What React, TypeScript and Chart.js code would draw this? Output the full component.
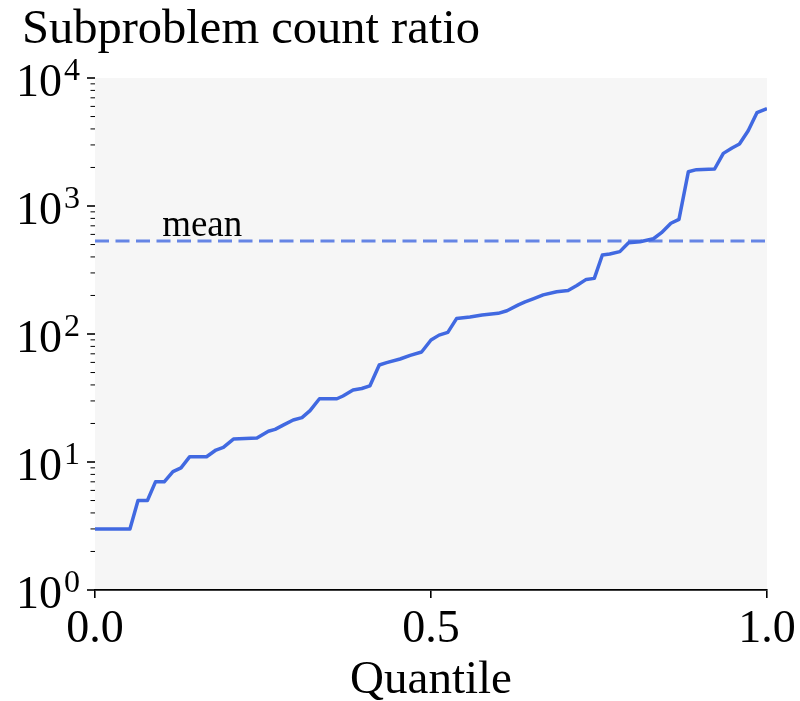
import React, { useEffect, useRef } from 'react';
import { Chart, registerables } from 'chart.js';

Chart.register(...registerables);

// ---- data ----
const quantiles = [
  0, 0.052, 0.064, 0.078, 0.09, 0.103, 0.116, 0.128, 0.141, 0.166,
  0.18, 0.191, 0.206, 0.241, 0.258, 0.268, 0.28, 0.295, 0.308, 0.32,
  0.334, 0.36, 0.369, 0.384, 0.397, 0.409, 0.423, 0.434, 0.454, 0.469,
  0.486, 0.5, 0.512, 0.525, 0.538, 0.558, 0.576, 0.6, 0.613, 0.63,
  0.64, 0.652, 0.667, 0.687, 0.704, 0.717, 0.731, 0.743, 0.755, 0.766,
  0.781, 0.794, 0.811, 0.831, 0.843, 0.857, 0.869, 0.883, 0.895, 0.922,
  0.935, 0.948, 0.959, 0.972, 0.985, 1.0,
];
const ratios = [
  3, 3, 5, 5, 7, 7, 8.4, 9, 11, 11,
  12.4, 13, 15.1, 15.4, 17.4, 18, 19.4, 21.3, 22.2, 25.2,
  31.2, 31.2, 32.8, 36.5, 37.5, 39.3, 57.3, 59.7, 63.8, 68.1,
  72.3, 89.7, 98, 103, 132, 136, 141, 145, 152, 169,
  178, 188, 202, 214, 219, 239, 267, 272, 414, 422,
  440, 517, 526, 555, 619, 733, 787, 1854, 1923, 1945,
  2577, 2840, 3049, 3876, 5357, 5755,
];
const meanRatio = 533;
const meanLabel = 'mean';
const meanLabelQuantile = 0.1;
const xTicks = [0, 0.5, 1];
const yMajorTicks = [1, 10, 100, 1000, 10000];
const yTickBase = '10';
const yTickExponents = ['0', '1', '2', '3', '4'];
const chartTitle = 'Subproblem count ratio';
const xAxisTitle = 'Quantile';

const SERIF = "'Liberation Serif', 'Times New Roman', serif";
const LINE_COLOR = '#4169e1';
const MEAN_COLOR = 'rgba(65,105,225,0.8)';

function fitFont(ctx: CanvasRenderingContext2D, text: string, width: number) {
  ctx.font = `100px ${SERIF}`;
  const w = ctx.measureText(text).width;
  return (100 * width) / w;
}

const decorPlugin = {
  id: 'decor',
  beforeDraw(chart: any) {
    const { ctx, chartArea: a } = chart;
    ctx.save();
    ctx.fillStyle = '#f6f6f6';
    ctx.fillRect(a.left, a.top, a.right - a.left, a.bottom - a.top);
    ctx.restore();
  },
  afterDraw(chart: any) {
    const { ctx, chartArea: a } = chart;
    const y = chart.scales.y;
    const x = chart.scales.x;
    ctx.save();
    ctx.strokeStyle = '#000';
    ctx.fillStyle = '#000';
    const seg = (x1: number, y1: number, x2: number, y2: number) => {
      ctx.beginPath();
      ctx.moveTo(x1, y1);
      ctx.lineTo(x2, y2);
      ctx.stroke();
    };
    // minor ticks
    ctx.lineWidth = 1;
    for (let d = 0; d < yMajorTicks.length - 1; d++) {
      for (let m = 2; m <= 9; m++) {
        const py = y.getPixelForValue(yMajorTicks[d] * m);
        seg(a.left - 4.5, py, a.left, py);
      }
    }
    // major ticks + labels
    yMajorTicks.forEach((v, i) => {
      const py = y.getPixelForValue(v);
      ctx.lineWidth = 1.6;
      seg(a.left - 8, py, a.left, py);
      const right = a.left - 15;
      ctx.textAlign = 'right';
      ctx.textBaseline = 'alphabetic';
      ctx.font = `32px ${SERIF}`;
      const ew = ctx.measureText(yTickExponents[i]).width;
      ctx.fillText(yTickExponents[i], right, py + 2);
      ctx.font = `46px ${SERIF}`;
      ctx.fillText(yTickBase, right - ew - 2, py + 18);
    });
    // title
    ctx.textAlign = 'left';
    ctx.textBaseline = 'alphabetic';
    const ts = fitFont(ctx, chartTitle, 458);
    ctx.font = `${ts}px ${SERIF}`;
    ctx.fillText(chartTitle, 22, 43);
    // x title
    const qs = fitFont(ctx, xAxisTitle, 162);
    ctx.font = `${qs}px ${SERIF}`;
    ctx.textAlign = 'center';
    ctx.fillText(xAxisTitle, (a.left + a.right) / 2, 693);
    // mean label
    const ms = fitFont(ctx, meanLabel, 80);
    ctx.font = `${ms}px ${SERIF}`;
    ctx.textAlign = 'left';
    ctx.fillText(meanLabel, x.getPixelForValue(meanLabelQuantile), y.getPixelForValue(meanRatio) - 5);
    ctx.restore();
  },
};

export default function App() {
  const ref = useRef<HTMLCanvasElement | null>(null);
  useEffect(() => {
    if (!ref.current) return;
    const chart = new Chart(ref.current, {
      type: 'line',
      data: {
        datasets: [
          {
            data: quantiles.map((q, i) => ({ x: q, y: ratios[i] })),
            borderColor: LINE_COLOR,
            borderWidth: 3.5,
            pointRadius: 0,
            tension: 0,
            fill: false,
            borderJoinStyle: 'round',
          },
          {
            data: [
              { x: 0, y: meanRatio },
              { x: 1, y: meanRatio },
            ],
            borderColor: MEAN_COLOR,
            borderWidth: 3.2,
            borderDash: [14, 6.5],
            pointRadius: 0,
            fill: false,
          },
        ],
      },
      options: {
        animation: false,
        responsive: false,
        devicePixelRatio: 1,
        layout: { padding: { top: 78, right: 33, left: 0, bottom: 0 } },
        plugins: { legend: { display: false }, tooltip: { enabled: false }, title: { display: false } },
        scales: {
          x: {
            type: 'linear',
            min: 0,
            max: 1,
            afterBuildTicks: (s: any) => {
              s.ticks = xTicks.map((v) => ({ value: v }));
            },
            afterFit: (s: any) => {
              s.height = 111;
            },
            ticks: {
              callback: (v: any) => Number(v).toFixed(1),
              font: { family: SERIF, size: 46 },
              color: '#000',
              padding: 4,
              maxRotation: 0,
            },
            grid: {
              display: true,
              drawOnChartArea: false,
              drawTicks: true,
              tickLength: 8,
              color: '#000',
              lineWidth: 1.6,
            },
            border: { display: true, color: '#000', width: 1.8 },
          },
          y: {
            type: 'logarithmic',
            min: 1,
            max: 10000,
            afterBuildTicks: (s: any) => {
              s.ticks = yMajorTicks.map((v) => ({ value: v }));
            },
            afterFit: (s: any) => {
              s.width = 95;
            },
            ticks: { display: false },
            grid: { display: false },
            border: { display: false },
          },
        },
      },
      plugins: [decorPlugin],
    } as any);
    return () => chart.destroy();
  }, []);
  return (
    <div style={{ position: 'fixed', left: 0, top: 0, width: 800, height: 701, background: '#fff' }}>
      <canvas ref={ref} width={800} height={701} style={{ width: 800, height: 701, display: 'block' }} />
    </div>
  );
}
